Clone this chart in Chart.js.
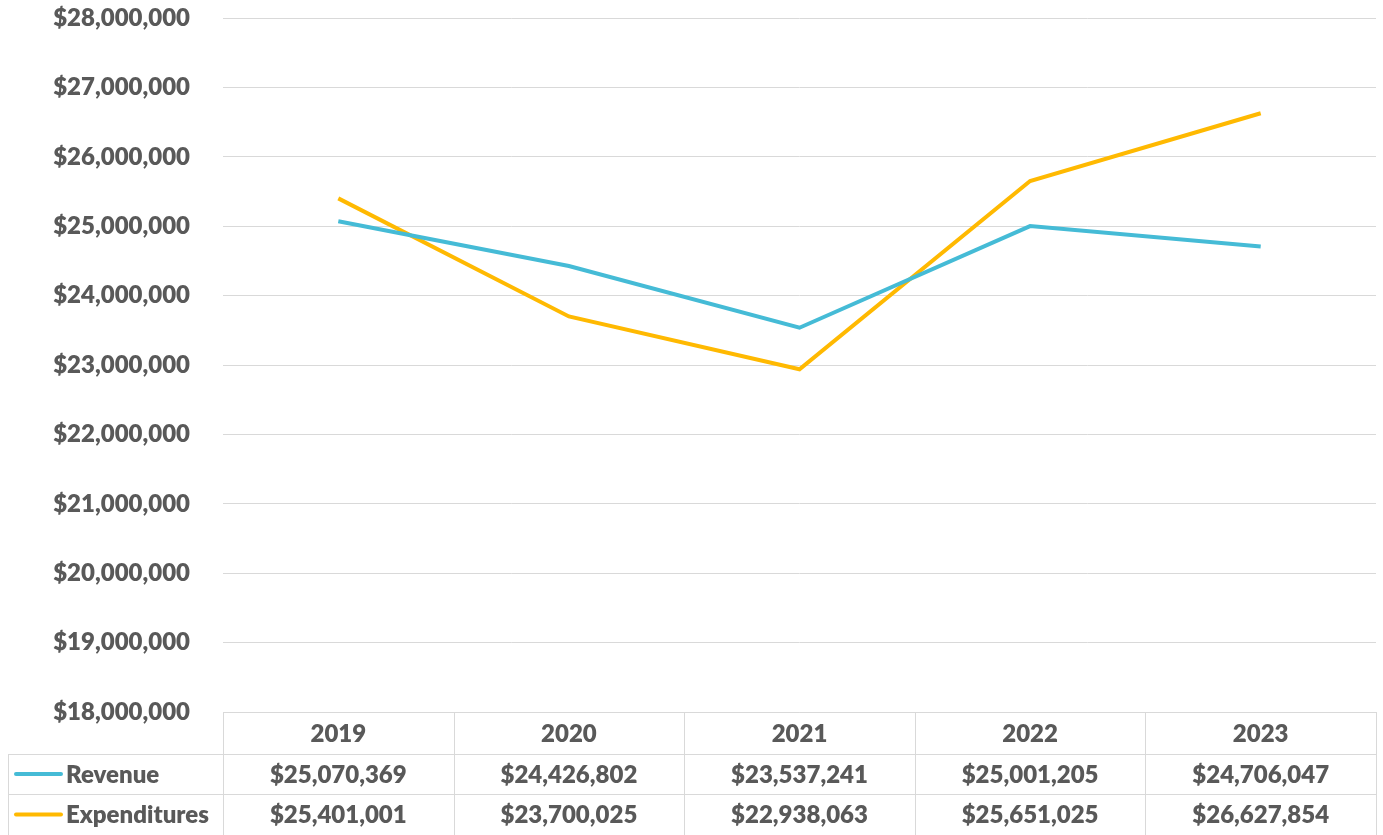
<!DOCTYPE html>
<html>
<head>
<meta charset="utf-8">
<script src="https://cdn.jsdelivr.net/npm/chart.js@4"></script>
<style>
  html, body { margin: 0; padding: 0; background: #fff; }
  #wrap { width: 1383px; height: 835px; }
</style>
</head>
<body>
<div id="wrap"><canvas id="chart" width="1383" height="835"></canvas></div>
<script>
const years = ['2019', '2020', '2021', '2022', '2023'];
const revenue = [25070369, 24426802, 23537241, 25001205, 24706047];
const expenditures = [25401001, 23700025, 22938063, 25651025, 26627854];
const seriesNames = ['Revenue', 'Expenditures'];
const seriesColors = ['#45BBD6', '#FFB901'];

const textColor = '#595959';
const gridColor = '#d9d9d9';
const fontFamily = 'Lato, "Open Sans", sans-serif';
const fontSize = 24;
const fontWeight = 800;

const money = v => '$' + Math.round(v).toLocaleString('en-US');

// draws the Excel-style data table under the x axis
const dataTable = {
    id: 'dataTable',
    afterDraw(chart) {
        const ctx = chart.ctx;
        const x = chart.scales.x;
        const area = chart.chartArea;
        const colW = x.width / years.length;
        const top = area.bottom;
        const rows = [top, top + 42, top + 82, top + 123];
        const legendLeft = 8;

        ctx.save();
        ctx.strokeStyle = gridColor;
        ctx.lineWidth = 1;
        ctx.beginPath();
        // horizontal rules
        ctx.moveTo(x.left, rows[0] + 0.5); ctx.lineTo(x.right, rows[0] + 0.5);
        ctx.moveTo(legendLeft, rows[1] + 0.5); ctx.lineTo(x.right, rows[1] + 0.5);
        ctx.moveTo(legendLeft, rows[2] + 0.5); ctx.lineTo(x.right, rows[2] + 0.5);
        // vertical rules
        for (let i = 0; i <= years.length; i++) {
            const px = Math.round(x.left + i * colW) + 0.5;
            ctx.moveTo(px, rows[0]); ctx.lineTo(px, rows[3]);
        }
        ctx.moveTo(legendLeft + 0.5, rows[1]); ctx.lineTo(legendLeft + 0.5, rows[3]);
        ctx.stroke();

        ctx.fillStyle = textColor;
        ctx.font = `${fontWeight} ${fontSize}px ${fontFamily}`;
        ctx.textBaseline = 'middle';
        ctx.textAlign = 'center';
        const mid = r => (rows[r] + rows[r + 1]) / 2 + 1;
        years.forEach((y, i) => {
            const cx = x.getPixelForValue(i);
            ctx.fillText(y, cx, mid(0));
            ctx.fillText(money(revenue[i]), cx, mid(1));
            ctx.fillText(money(expenditures[i]), cx, mid(2));
        });

        // legend keys
        chart.data.datasets.forEach((ds, d) => {
            const cy = mid(d + 1) - 1;
            ctx.strokeStyle = ds.borderColor;
            ctx.lineWidth = 4;
            ctx.lineCap = 'round';
            ctx.beginPath();
            ctx.moveTo(16, cy); ctx.lineTo(61, cy);
            ctx.stroke();
            ctx.textAlign = 'left';
            ctx.fillText(ds.label, 66, cy + 1);
        });
        ctx.restore();
    }
};

new Chart(document.getElementById('chart'), {
    type: 'line',
    data: {
        labels: years,
        datasets: [
            { label: seriesNames[0], data: revenue, borderColor: seriesColors[0] },
            { label: seriesNames[1], data: expenditures, borderColor: seriesColors[1] }
        ].map(ds => Object.assign(ds, { borderWidth: 4, pointRadius: 0, tension: 0, fill: false }))
    },
    options: {
        responsive: false,
        animation: false,
        layout: { padding: { top: 18, right: 7, bottom: 0, left: 0 } },
        plugins: { legend: { display: false }, tooltip: { enabled: false } },
        scales: {
            x: {
                offset: true,
                grid: { display: false, drawTicks: false },
                border: { display: false },
                ticks: { display: false },
                afterFit: s => { s.height = 123; }
            },
            y: {
                min: 18000000,
                max: 28000000,
                ticks: {
                    stepSize: 1000000,
                    padding: 33,
                    color: textColor,
                    font: { family: fontFamily, size: fontSize, weight: fontWeight },
                    callback: v => money(v)
                },
                grid: { color: gridColor, drawTicks: false },
                border: { display: false },
                afterFit: s => { s.width = 223; s.paddingTop = 0; s.paddingBottom = 0; }
            }
        }
    },
    plugins: [dataTable]
});
</script>
</body>
</html>
